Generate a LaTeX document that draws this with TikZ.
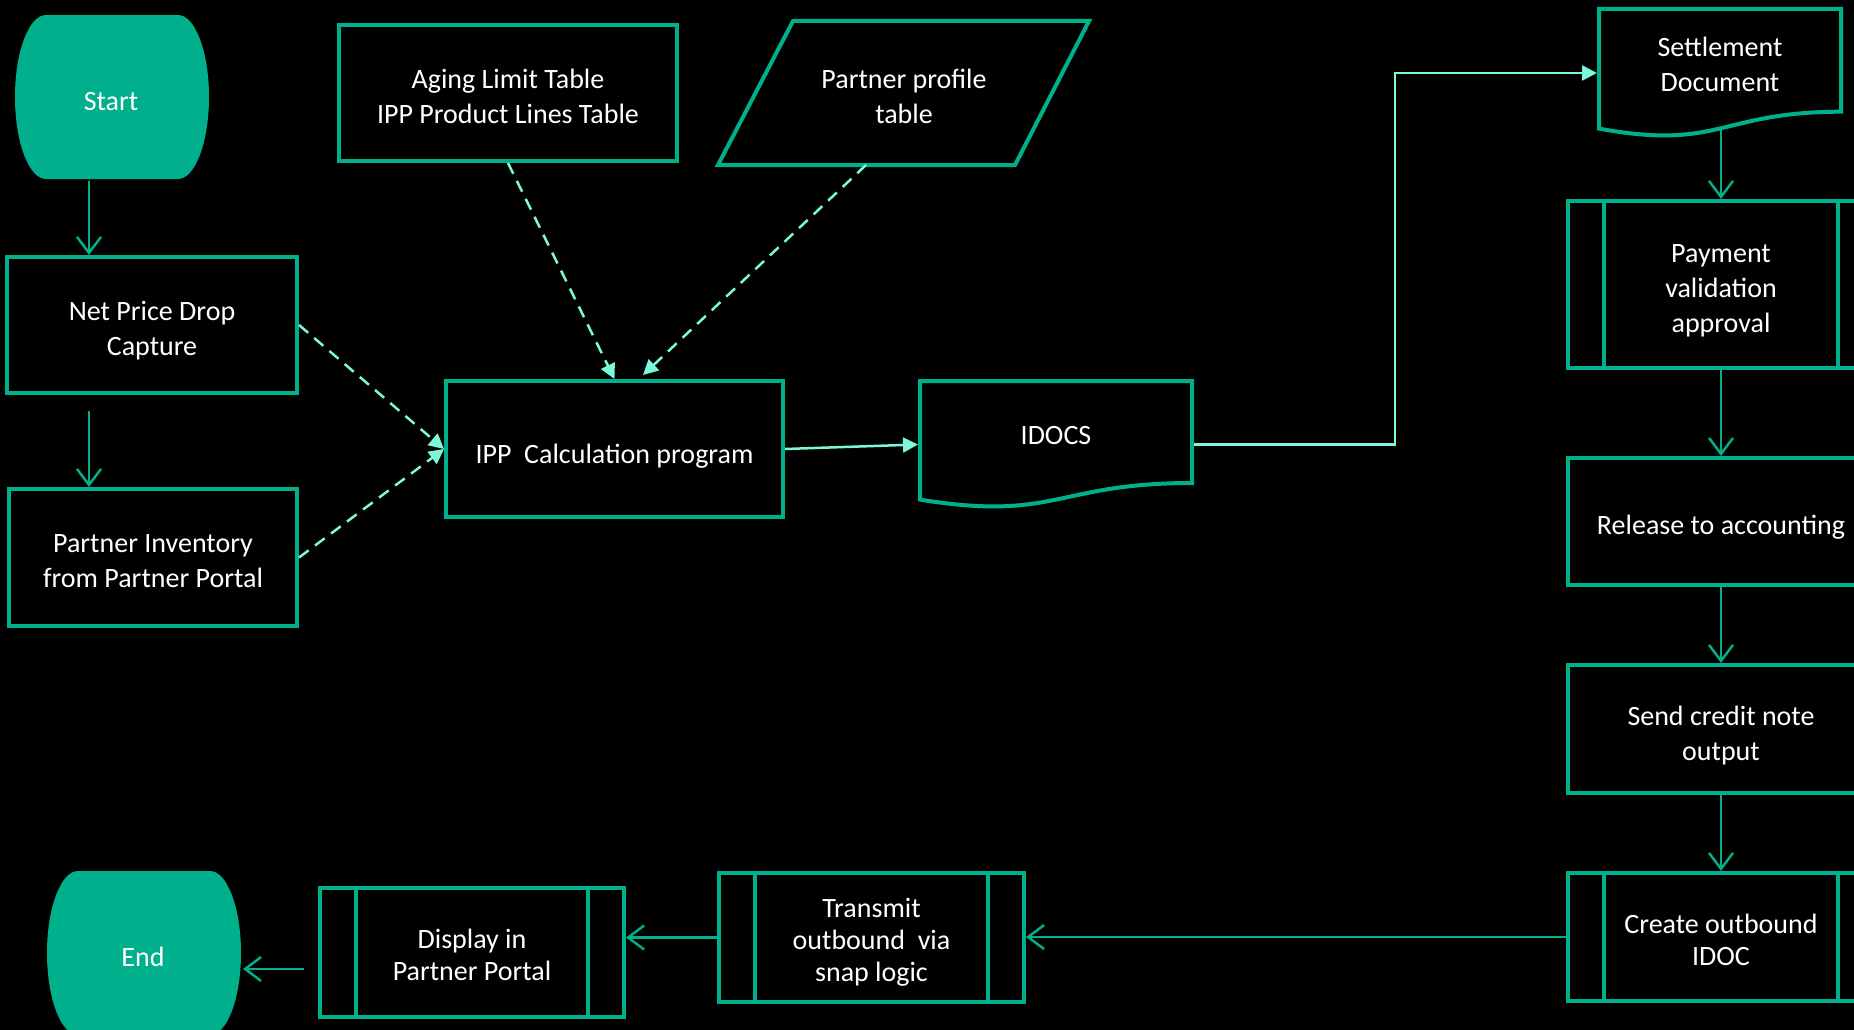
\documentclass[tikz,border=0pt]{standalone}
\usepackage{fontspec}
\setmainfont{Carlito}
\usetikzlibrary{arrows.meta,calc}
\definecolor{hpe}{HTML}{00B08C}
\definecolor{aqua}{HTML}{7CF7DC}
\tikzset{
  boxline/.style={draw=hpe, line width=4pt},
  txtstyle/.style={text=white, align=center, font=\fontsize{28}{35}\selectfont},
  procbox/.style={boxline, rectangle, inner sep=0pt},
  ghostbox/.style={rectangle, inner sep=0pt, outer sep=2pt, draw=none},
  txtnode/.style={inner sep=0pt, txtstyle},
  flowarrow/.style={draw=hpe, line width=2.5pt, -{Straight Barb[length=16pt,width=24pt]}},
  dataarrow/.style={draw=aqua, line width=2.5pt, dash pattern=on 12pt off 8pt, -{Triangle[length=15pt,width=15pt]}},
  linkarrow/.style={draw=aqua, line width=2.5pt, -{Triangle[length=15pt,width=15pt]}},
}
\newcommand\pplines[1]{%
  \draw[boxline] ($(#1.north west)+(38,2)$) -- ($(#1.south west)+(38,-2)$);
  \draw[boxline] ($(#1.north east)+(-38,2)$) -- ($(#1.south east)+(-38,-2)$);}
\begin{document}
\begin{tikzpicture}[x=1pt,y=-1pt]
\useasboundingbox (0,0) rectangle (1854,1030);
\clip (0,0) rectangle (1854,1030);
\fill[black] (0,0) rectangle (1854,1030);

% Start terminal
\fill[hpe] (46,15) -- (178,15) .. controls (195.1,15) and (209,51.7) .. (209,97)
  .. controls (209,142.3) and (195.1,179) .. (178,179) -- (46,179)
  .. controls (28.9,179) and (15,142.3) .. (15,97)
  .. controls (15,51.7) and (28.9,15) .. (46,15) -- cycle;
\node[ghostbox, minimum width=194pt, minimum height=164pt] (start) at (112,97) {};
\node[txtnode] (startT) at ($(start)+(-1,5)$) {Start};

% End terminal
\fill[hpe] (78,871) -- (210,871) .. controls (227.1,871) and (241,907.7) .. (241,953)
  .. controls (241,998.3) and (227.1,1035) .. (210,1035) -- (78,1035)
  .. controls (60.9,1035) and (47,998.3) .. (47,953)
  .. controls (47,907.7) and (60.9,871) .. (78,871) -- cycle;
\node[ghostbox, minimum width=194pt, minimum height=164pt] (end) at (144,953) {};
\node[txtnode] (endT) at ($(end)+(-1,3.5)$) {End};

% Left column
\node[procbox, minimum width=290pt, minimum height=136pt] (np) at (152,325) {};
\node[txtnode] (npT) at ($(np)+(0,6)$) {Net Price Drop\\Capture};
\node[procbox, minimum width=288pt, minimum height=137pt] (pi) at (153,557.5) {};
\node[txtnode] (piT) at ($(pi)+(0,4)$) {Partner Inventory\\from Partner Portal};

% Tables
\node[procbox, minimum width=338pt, minimum height=136pt] (aging) at (508,93) {};
\node[txtnode] (agingT) at ($(aging)+(0,3.5)$) {Aging Limit Table\\IPP Product Lines Table};
\draw[boxline] (793,21) -- (1089,21) -- (1015,165) -- (718,165) -- cycle;
\node[ghostbox, minimum width=296pt, minimum height=144pt] (prof) at (904,93) {};
\node[txtnode] (profT) at ($(prof)+(0,3)$) {Partner profile\\table};
\coordinate (profB) at (866,165);

% IPP calculation
\node[procbox, minimum width=337pt, minimum height=136pt] (ipp) at (614.5,449) {};
\node[txtnode] (ippT) at ($(ipp)+(0,7)$) {IPP\ \ Calculation program};
\coordinate (ippN2) at (643,375);

% IDOCS document
\draw[boxline] (920,499.6) -- (920,381) -- (1192,381) -- (1192,483)
  .. controls (1056,483) and (1056,521.7) .. (920,499.6) -- cycle;
\node[ghostbox, minimum width=272pt, minimum height=127pt] (idocs) at (1056,444.5) {};
\node[txtnode] (idocsT) at (1056,436) {IDOCS};

% Settlement document
\draw[boxline] (1599,128.6) -- (1599,9) -- (1841,9) -- (1841,111.7)
  .. controls (1720,111.7) and (1720,150.8) .. (1599,128.6) -- cycle;
\node[ghostbox, minimum width=242pt, minimum height=128pt] (settle) at (1720,73) {};
\node[txtnode] (settleT) at (1720,64) {Settlement\\Document};
\coordinate (settleB) at (1721,129);
\coordinate (elb) at (1395,73);

% Right column
\node[procbox, minimum width=306pt, minimum height=167pt] (pay) at (1721,284.5) {};
\pplines{pay}
\node[txtnode] (payT) at ($(pay)+(0,6)$) {Payment\\validation\\approval};
\node[procbox, minimum width=306pt, minimum height=127pt] (rel) at (1721,521.5) {};
\node[txtnode] (relT) at ($(rel)+(0,6)$) {Release to accounting};
\node[procbox, minimum width=306pt, minimum height=128pt] (send) at (1721,729) {};
\node[txtnode] (sendT) at ($(send)+(0,6.5)$) {Send credit note\\output};
\node[procbox, minimum width=306pt, minimum height=128pt] (create) at (1721,937) {};
\pplines{create}
\node[txtnode, font=\fontsize{28}{32}\selectfont] (createT) at ($(create)+(0,2.5)$) {Create outbound\\IDOC};

% Bottom row
\node[procbox, minimum width=305pt, minimum height=129pt] (trans) at (871.5,937.5) {};
\pplines{trans}
\node[txtnode, font=\fontsize{28}{32}\selectfont] (transT) at ($(trans)+(0,5)$) {Transmit\\outbound\ \ via\\snap logic};
\node[procbox, minimum width=304pt, minimum height=129pt] (disp) at (472,952.5) {};
\pplines{disp}
\node[txtnode, font=\fontsize{28}{32}\selectfont] (dispT) at ($(disp)+(0,2.5)$) {Display in\\Partner Portal};
\coordinate (dispE) at (304,969);

% Solid flow connectors
\coordinate (colA) at (89,0);
\draw[flowarrow] (start.south -| colA) -- (np.north -| colA);
\draw[flowarrow] ($(np.south -| colA)+(0,16)$) -- (pi.north -| colA);
\draw[flowarrow] (settleB) -- (pay.north);
\draw[flowarrow] (pay.south) -- (rel.north);
\draw[flowarrow] (rel.south) -- (send.north);
\draw[flowarrow] (send.south) -- (create.north);
\draw[flowarrow] (create.west) -- (create.west -| trans.east);
\draw[flowarrow] (trans.west) -- (trans.west -| disp.east);
\draw[flowarrow] (dispE) -- (dispE -| end.east);

% Dashed data connectors
\draw[dataarrow] (aging.south) -- (ipp.north);
\draw[dataarrow] (profB) -- (ippN2);
\draw[dataarrow] (np.east) -- (ipp.west);
\draw[dataarrow] (pi.east) -- (ipp.west);

% Light solid connectors
\draw[linkarrow] (ipp.east) -- (idocs.west);
\draw[linkarrow] (idocs.east) -| (elb) -- (settle.west);
\end{tikzpicture}
\end{document}
